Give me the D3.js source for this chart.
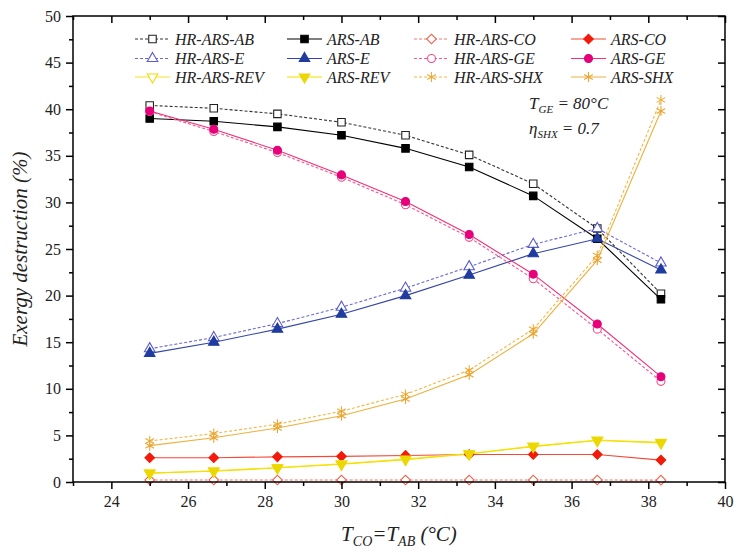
<!DOCTYPE html>
<html>
<head>
<meta charset="utf-8">
<script src="https://cdn.jsdelivr.net/npm/d3@7"></script>
<style>
  html, body { margin: 0; padding: 0; background: #fff; }
  svg { display: block; font-family: "Liberation Serif", "Times New Roman", Tinos, "DejaVu Serif", "Noto Serif", serif; }
</style>
</head>
<body>
<svg id="chart" width="734" height="553"></svg>
<script>
// Condenser / absorber temperature (°C)
const temps = [25, 26.67, 28.33, 30, 31.67, 33.33, 35, 36.67, 38.33];

// Exergy destruction share of each component (%)
const hrArsAB  = [40.4, 40.1, 39.5, 38.6, 37.2, 35.1, 32.0, 27.2, 20.2];
const arsAB    = [39.0, 38.7, 38.1, 37.2, 35.8, 33.8, 30.7, 26.1, 19.6];
const hrArsCO  = [0.22, 0.22, 0.22, 0.22, 0.22, 0.22, 0.21, 0.21, 0.2];
const arsCO    = [2.6, 2.6, 2.7, 2.75, 2.85, 2.95, 2.95, 2.95, 2.35];
const hrArsE   = [14.3, 15.5, 17.0, 18.75, 20.8, 23.1, 25.5, 27.2, 23.5];
const arsE     = [13.8, 15.0, 16.4, 18.0, 20.0, 22.2, 24.5, 26.1, 22.75];
const hrArsGE  = [39.75, 37.6, 35.35, 32.7, 29.75, 26.25, 21.8, 16.4, 10.8];
const arsGE    = [39.8, 37.85, 35.6, 32.95, 30.1, 26.55, 22.3, 16.95, 11.3];
const hrArsREV = [0.95, 1.2, 1.55, 1.95, 2.45, 3.05, 3.85, 4.5, 4.25];
const arsREV   = [0.95, 1.15, 1.5, 1.9, 2.4, 3.0, 3.8, 4.45, 4.2];
const hrArsSHX = [4.4, 5.2, 6.2, 7.6, 9.4, 12.0, 16.4, 24.3, 41.0];
const arsSHX   = [3.9, 4.75, 5.8, 7.1, 8.9, 11.5, 15.9, 23.8, 39.8];

const xTicks = [24, 26, 28, 30, 32, 34, 36, 38, 40];
const yTicks = [0, 5, 10, 15, 20, 25, 30, 35, 40, 45, 50];

// Series definitions (legend order, row by row)
const series = [
  { name: "HR-ARS-AB",  values: hrArsAB,  color: "#333333", mcolor: "#222222", dash: true,  shape: "square",   filled: false },
  { name: "ARS-AB",     values: arsAB,    color: "#000000", mcolor: "#000000", dash: false, shape: "square",   filled: true  },
  { name: "HR-ARS-CO",  values: hrArsCO,  color: "#f07a68", mcolor: "#f0604a", dash: true,  shape: "diamond",  filled: false },
  { name: "ARS-CO",     values: arsCO,    color: "#f24a38", mcolor: "#f21a0a", dash: false, shape: "diamond",  filled: true  },
  { name: "HR-ARS-E",   values: hrArsE,   color: "#6a6ad0", mcolor: "#5a5ccc", dash: true,  shape: "triangle", filled: false },
  { name: "ARS-E",      values: arsE,     color: "#3444a8", mcolor: "#1f3c9e", dash: false, shape: "triangle", filled: true  },
  { name: "HR-ARS-GE",  values: hrArsGE,  color: "#f8568e", mcolor: "#f24a86", dash: true,  shape: "circle",   filled: false },
  { name: "ARS-GE",     values: arsGE,    color: "#f0307a", mcolor: "#e6007a", dash: false, shape: "circle",   filled: true  },
  { name: "HR-ARS-REV", values: hrArsREV, color: "#f6e420", mcolor: "#f0dc10", dash: false, shape: "tridown",  filled: false },
  { name: "ARS-REV",    values: arsREV,   color: "#f2e000", mcolor: "#ecd800", dash: false, shape: "tridown",  filled: true  },
  { name: "HR-ARS-SHX", values: hrArsSHX, color: "#f0b848", mcolor: "#eeaa3a", dash: true,  shape: "star",     filled: false },
  { name: "ARS-SHX",    values: arsSHX,   color: "#eeb03c", mcolor: "#eaa430", dash: false, shape: "star",     filled: true  }
];

const svg = d3.select("#chart");

const margin = { left: 73, right: 725, top: 16, bottom: 482 };
const x = d3.scaleLinear().domain([23, 40]).range([margin.left, margin.right]);
const y = d3.scaleLinear().domain([0, 50]).range([margin.bottom, margin.top]);

// Marker path generators
function markerPath(shape) {
  switch (shape) {
    case "square":   return d3.symbol(d3.symbolSquare, 56)();
    case "circle":   return d3.symbol(d3.symbolCircle, 50)();
    case "triangle": return d3.symbol(d3.symbolTriangle, 48)();
    case "tridown":  return d3.symbol(d3.symbolTriangle, 48)();
    case "diamond":  return d3.symbol(d3.symbolSquare, 46)();
    case "star": {
      const r = 5, p = d3.path();
      [90, 30, 150].forEach(a => {
        const t = a * Math.PI / 180;
        p.moveTo(r * Math.cos(t), -r * Math.sin(t));
        p.lineTo(-r * Math.cos(t), r * Math.sin(t));
      });
      return p.toString();
    }
  }
}
function markerRotate(shape) {
  if (shape === "tridown") return " rotate(180)";
  if (shape === "diamond") return " rotate(45)";
  return "";
}
function drawMarker(g, s, cx, cy) {
  const m = g.append("path")
    .attr("d", markerPath(s.shape))
    .attr("transform", `translate(${cx},${cy})` + markerRotate(s.shape))
    .attr("stroke", s.mcolor)
    .attr("stroke-width", 1.1);
  if (s.shape === "star") m.attr("fill", "none");
  else m.attr("fill", s.filled ? s.mcolor : "#ffffff");
}

// Data lines and markers
const line = d3.line().x((d, i) => x(temps[i])).y(d => y(d));
const plot = svg.append("g");
series.forEach(s => {
  plot.append("path")
    .datum(s.values)
    .attr("d", line)
    .attr("fill", "none")
    .attr("stroke", s.color)
    .attr("stroke-width", 1.1)
    .attr("stroke-dasharray", s.dash ? "3,2" : null);
});
series.forEach(s => {
  const g = plot.append("g");
  s.values.forEach((v, i) => drawMarker(g, s, x(temps[i]), y(v)));
});

// Frame
svg.append("rect")
  .attr("x", margin.left).attr("y", margin.top)
  .attr("width", margin.right - margin.left)
  .attr("height", margin.bottom - margin.top)
  .attr("fill", "none").attr("stroke", "#000").attr("stroke-width", 1.5);

const fontTick = 16;
function styleTickText(g) {
  g.attr("font-family", null);
  g.selectAll("text").attr("font-size", fontTick).attr("fill", "#222");
}
// Bottom axis
const gx = svg.append("g").attr("transform", `translate(0,${margin.bottom})`)
  .call(d3.axisBottom(x).tickValues(xTicks).tickSize(7).tickSizeOuter(0).tickPadding(7));
gx.select(".domain").remove();
gx.selectAll("line").attr("stroke-width", 1.5);
styleTickText(gx);
const xMinor = d3.range(23, 40, 1).filter(v => !xTicks.includes(v));
svg.append("g").attr("transform", `translate(0,${margin.bottom})`)
  .call(d3.axisBottom(x).tickValues(xMinor).tickSize(4).tickFormat(""))
  .call(g => g.select(".domain").remove())
  .selectAll("line").attr("stroke-width", 1.5);

// Top axis (inward ticks)
svg.append("g").attr("transform", `translate(0,${margin.top})`)
  .call(d3.axisTop(x).tickValues(xTicks).tickSize(-7).tickFormat(""))
  .call(g => g.select(".domain").remove())
  .selectAll("line").attr("stroke-width", 1.5);
svg.append("g").attr("transform", `translate(0,${margin.top})`)
  .call(d3.axisTop(x).tickValues(xMinor).tickSize(-4).tickFormat(""))
  .call(g => g.select(".domain").remove())
  .selectAll("line").attr("stroke-width", 1.5);

// Left axis
const gy = svg.append("g").attr("transform", `translate(${margin.left},0)`)
  .call(d3.axisLeft(y).tickValues(yTicks).tickSize(7).tickPadding(5));
gy.select(".domain").remove();
gy.selectAll("line").attr("stroke-width", 1.5);
styleTickText(gy);
const yMinor = d3.range(2.5, 50, 5);
svg.append("g").attr("transform", `translate(${margin.left},0)`)
  .call(d3.axisLeft(y).tickValues(yMinor).tickSize(4).tickFormat(""))
  .call(g => g.select(".domain").remove())
  .selectAll("line").attr("stroke-width", 1.5);

// Right axis (inward ticks)
svg.append("g").attr("transform", `translate(${margin.right},0)`)
  .call(d3.axisRight(y).tickValues(yTicks).tickSize(-7).tickFormat(""))
  .call(g => g.select(".domain").remove())
  .selectAll("line").attr("stroke-width", 1.5);
svg.append("g").attr("transform", `translate(${margin.right},0)`)
  .call(d3.axisRight(y).tickValues(yMinor).tickSize(-4).tickFormat(""))
  .call(g => g.select(".domain").remove())
  .selectAll("line").attr("stroke-width", 1.5);

// Axis titles
const xt = svg.append("text")
  .attr("x", (margin.left + margin.right) / 2).attr("y", 541)
  .attr("text-anchor", "middle").attr("font-size", 21).attr("font-style", "italic").attr("fill", "#222");
xt.append("tspan").text("T");
xt.append("tspan").text("CO").attr("font-size", 14).attr("dy", 5);
xt.append("tspan").text("=T").attr("dy", -5);
xt.append("tspan").text("AB").attr("font-size", 14).attr("dy", 5);
xt.append("tspan").text(" (°C)").attr("dy", -5);

svg.append("text")
  .attr("transform", `translate(27,${(margin.top + margin.bottom) / 2}) rotate(-90)`)
  .attr("text-anchor", "middle").attr("font-size", 21).attr("font-style", "italic").attr("fill", "#222")
  .text("Exergy destruction (%)");

// Operating-condition note
const n1 = svg.append("text").attr("x", 529).attr("y", 109)
  .attr("font-size", 17).attr("font-style", "italic").attr("fill", "#222");
n1.append("tspan").text("T");
n1.append("tspan").text("GE").attr("font-size", 11).attr("dy", 4);
n1.append("tspan").text(" = 80°C").attr("dy", -4);
const n2 = svg.append("text").attr("x", 529).attr("y", 134)
  .attr("font-size", 17).attr("font-style", "italic").attr("fill", "#222");
n2.append("tspan").text("η");
n2.append("tspan").text("SHX").attr("font-size", 11).attr("dy", 4);
n2.append("tspan").text(" = 0.7").attr("dy", -4);

// Legend: 4 columns x 3 rows
const legCols = [135, 287, 414, 571];
const legRows = [39, 58.5, 77];
const legend = svg.append("g");
series.forEach((s, i) => {
  const cx = legCols[i % 4], cy = legRows[Math.floor(i / 4)];
  const g = legend.append("g");
  g.append("line")
    .attr("x1", cx).attr("x2", cx + 35).attr("y1", cy).attr("y2", cy)
    .attr("stroke", s.color).attr("stroke-width", 1.1)
    .attr("stroke-dasharray", s.dash ? "3,2" : null);
  drawMarker(g, s, cx + 17.5, cy);
  g.append("text")
    .attr("x", cx + 40).attr("y", cy + 5.5)
    .attr("font-size", 16).attr("font-style", "italic").attr("fill", "#222")
    .text(s.name);
});
</script>
</body>
</html>
